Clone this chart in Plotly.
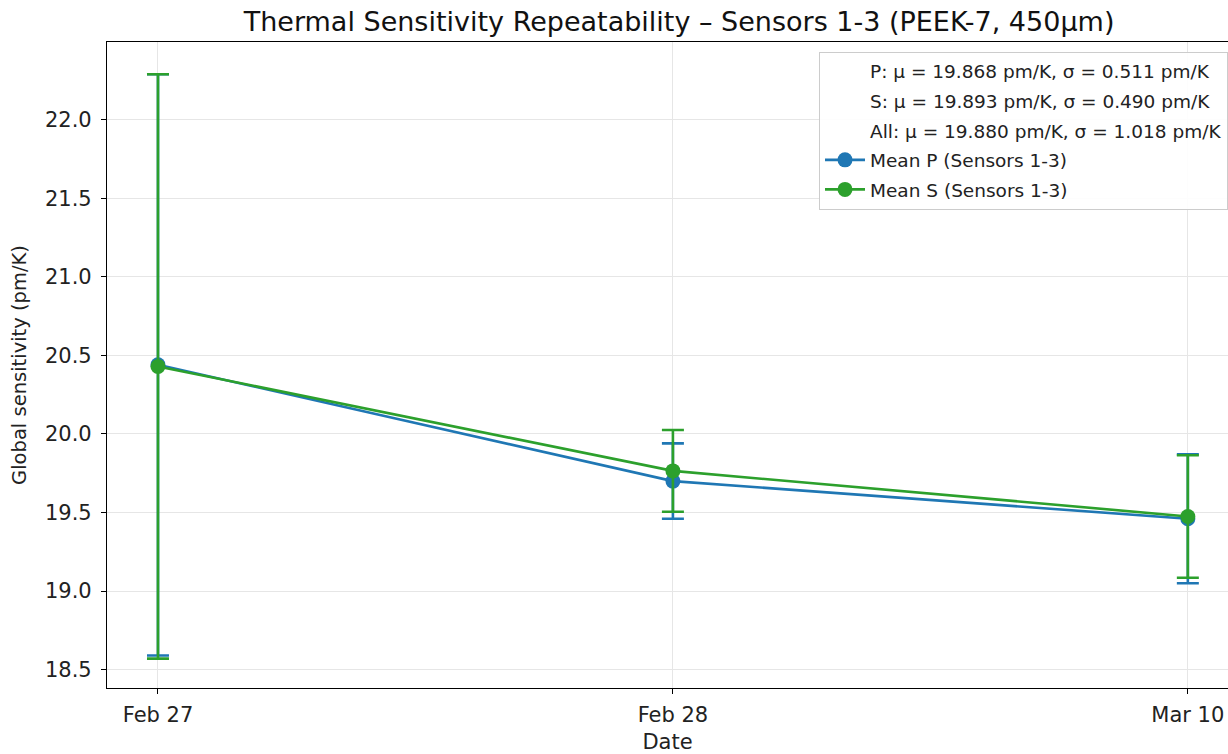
import plotly.graph_objects as go

dates = ["Feb 27", "Feb 28", "Mar 10"]
mean_p = [20.44, 19.70, 19.46]
err_p = [1.85, 0.24, 0.41]
mean_s = [20.43, 19.765, 19.475]
err_s = [1.86, 0.26, 0.39]
stats_text = [
    "P: μ = 19.868 pm/K, σ = 0.511 pm/K",
    "S: μ = 19.893 pm/K, σ = 0.490 pm/K",
    "All: μ = 19.880 pm/K, σ = 1.018 pm/K",
]
xpos = [0, 1, 2]

BLUE = "#1f77b4"
GREEN = "#2ca02c"
FONT = "DejaVu Sans"

fig = go.Figure()
for i, t in enumerate(stats_text):
    fig.add_trace(go.Scatter(x=[None], y=[None], mode="markers", name=t,
                             legendgroup=f"g{i}",
                             marker=dict(color="rgba(0,0,0,0)", size=1), showlegend=True))

for i, (name, y, e, c) in enumerate([("Mean P (Sensors 1-3)", mean_p, err_p, BLUE),
                                     ("Mean S (Sensors 1-3)", mean_s, err_s, GREEN)]):
    fig.add_trace(go.Scatter(
        x=xpos, y=y, name=name, mode="lines+markers", legendgroup=f"s{i}",
        line=dict(color=c, width=2.6),
        marker=dict(color=c, size=15),
        error_y=dict(type="data", array=e, visible=True, color=c,
                     thickness=2.6, width=11),
    ))

fig.update_layout(
    width=1228, height=754,
    margin=dict(l=107, r=0, t=42, b=66),
    paper_bgcolor="white", plot_bgcolor="white",
    font=dict(family=FONT, size=20, color="#222"),
    title=dict(text="Thermal Sensitivity Repeatability – Sensors 1-3 (PEEK-7, 450µm)",
               x=0.553, xanchor="center", y=0.972, yanchor="middle",
               font=dict(size=27, family=FONT, color="#111")),
    showlegend=True,
    legend=dict(x=1.0, xanchor="right", y=0.985, yanchor="top",
                bgcolor="rgba(255,255,255,0.9)", bordercolor="#cccccc", borderwidth=1,
                font=dict(size=18.5, family=FONT), tracegroupgap=2.5,
                itemwidth=40),
    xaxis=dict(
        title=dict(text="Date", font=dict(size=21), standoff=8),
        tickmode="array", tickvals=xpos, ticktext=dates,
        range=[-0.099, 2.078],
        showgrid=True, gridcolor="#e6e6e6", gridwidth=1,
        showline=True, linecolor="black", linewidth=1.2, mirror=True,
        ticks="outside", ticklen=5, tickcolor="black", ticklabelstandoff=3,
        zeroline=False, tickfont=dict(size=21),
    ),
    yaxis=dict(
        title=dict(text="Global sensitivity (pm/K)", font=dict(size=19.5), standoff=13),
        range=[18.383, 22.495],
        tickmode="array", tickvals=[18.5, 19.0, 19.5, 20.0, 20.5, 21.0, 21.5, 22.0],
        ticktext=["18.5", "19.0", "19.5", "20.0", "20.5", "21.0", "21.5", "22.0"],
        showgrid=True, gridcolor="#e6e6e6", gridwidth=1,
        showline=True, linecolor="black", linewidth=1.2, mirror=True,
        ticks="outside", ticklen=5, tickcolor="black", ticklabelstandoff=5,
        zeroline=False, tickfont=dict(size=21),
    ),
)

fig.write_html("out.html")
